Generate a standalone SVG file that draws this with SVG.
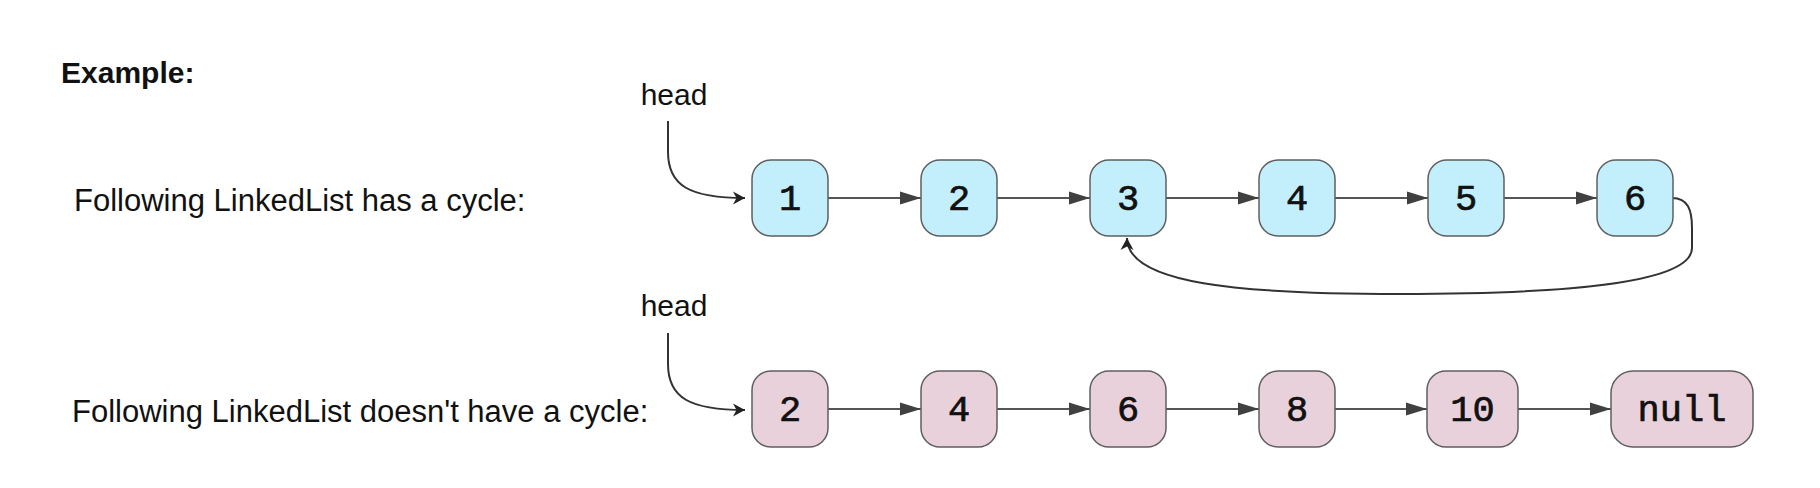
<svg xmlns="http://www.w3.org/2000/svg" width="1820" height="488" viewBox="0 0 1820 488">
  <style>
    .lbl { font-family: "Liberation Sans", Arial, Helvetica, sans-serif; font-size: 31px; fill: #111; }
    .ttl { font-family: "Liberation Sans", Arial, Helvetica, sans-serif; font-size: 30px; font-weight: bold; fill: #111; }
    .head { font-family: "Liberation Sans", Arial, Helvetica, sans-serif; font-size: 30px; fill: #111; text-anchor: middle; }
    .val { font-family: "Liberation Mono", "DejaVu Sans Mono", monospace; font-size: 37px; fill: #111; stroke: #111; stroke-width: 0.7; text-anchor: middle; }
    .blue { fill: #C3EEFB; stroke: #5f5f5f; stroke-width: 1.5; }
    .pink { fill: #E9D1DC; stroke: #5f5f5f; stroke-width: 1.5; }
    .link { fill: none; stroke: #555555; stroke-width: 2; marker-end: url(#block); }
    .curve { fill: none; stroke: #333333; stroke-width: 2; marker-end: url(#open); }
  </style>
  <defs>
    <marker id="block" markerUnits="userSpaceOnUse" markerWidth="22" markerHeight="14" refX="21" refY="7" orient="auto">
      <path d="M0,0.5 L21,7 L0,13.5 Z" fill="#404040"/>
    </marker>
    <marker id="open" markerUnits="userSpaceOnUse" markerWidth="16" markerHeight="16" refX="13" refY="8" orient="auto">
      <path d="M1,1.5 L13,8 L1,14.5 L4.5,8 Z" fill="#222222"/>
    </marker>
  </defs>

  <rect width="1820" height="488" fill="#ffffff"/>

  <g id="texts">
    <text class="ttl" x="61" y="83">Example:</text>
    <text class="lbl" x="74" y="211">Following LinkedList has a cycle:</text>
    <text class="lbl" x="72" y="422">Following LinkedList doesn't have a cycle:</text>
    <text class="head" x="674" y="105">head</text>
    <text class="head" x="674" y="316">head</text>
  </g>

  <g id="connectors">
    <path class="curve" d="M668,121 L668,152 C668,186 690,198 745,198"/>
    <path class="curve" d="M668,333 L668,364 C668,398 690,410 745,410"/>
    <path class="link" d="M828,198 L921,198"/>
    <path class="link" d="M997,198 L1090,198"/>
    <path class="link" d="M1166,198 L1259,198"/>
    <path class="link" d="M1335,198 L1428,198"/>
    <path class="link" d="M1504,198 L1597,198"/>
    <path class="curve" d="M1672,198 C1688,198 1692,210 1692,228 L1692,248 C1692,284 1560,294 1400,294 C1240,294 1127,284 1127,238"/>
    <path class="link" d="M828,409 L921,409"/>
    <path class="link" d="M997,409 L1090,409"/>
    <path class="link" d="M1166,409 L1259,409"/>
    <path class="link" d="M1335,409 L1427,409"/>
    <path class="link" d="M1518,409 L1611,409"/>
  </g>

  <g id="c1"><rect class="blue" x="752" y="160" width="76" height="76" rx="19"/><text class="val" x="790" y="210">1</text></g>
  <g id="c2"><rect class="blue" x="921" y="160" width="76" height="76" rx="19"/><text class="val" x="959" y="210">2</text></g>
  <g id="c3"><rect class="blue" x="1090" y="160" width="76" height="76" rx="19"/><text class="val" x="1128" y="210">3</text></g>
  <g id="c4"><rect class="blue" x="1259" y="160" width="76" height="76" rx="19"/><text class="val" x="1297" y="210">4</text></g>
  <g id="c5"><rect class="blue" x="1428" y="160" width="76" height="76" rx="19"/><text class="val" x="1466" y="210">5</text></g>
  <g id="c6"><rect class="blue" x="1597" y="160" width="76" height="76" rx="19"/><text class="val" x="1635" y="210">6</text></g>

  <g id="n2"><rect class="pink" x="752" y="371" width="76" height="76" rx="19"/><text class="val" x="790" y="421">2</text></g>
  <g id="n4"><rect class="pink" x="921" y="371" width="76" height="76" rx="19"/><text class="val" x="959" y="421">4</text></g>
  <g id="n6"><rect class="pink" x="1090" y="371" width="76" height="76" rx="19"/><text class="val" x="1128" y="421">6</text></g>
  <g id="n8"><rect class="pink" x="1259" y="371" width="76" height="76" rx="19"/><text class="val" x="1297" y="421">8</text></g>
  <g id="n10"><rect class="pink" x="1427" y="371" width="91" height="76" rx="19"/><text class="val" x="1472.5" y="421">10</text></g>
  <g id="nnull"><rect class="pink" x="1611" y="371" width="142" height="76" rx="22"/><text class="val" x="1682" y="421">null</text></g>
</svg>
